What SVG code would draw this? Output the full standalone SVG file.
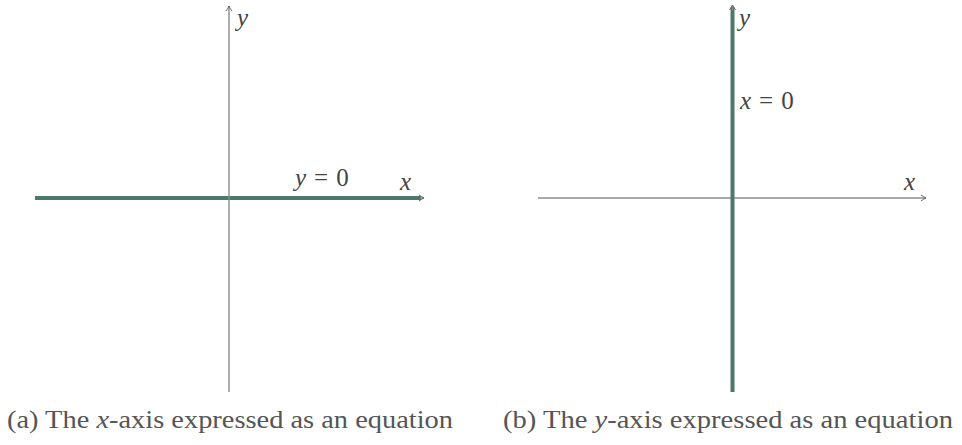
<svg xmlns="http://www.w3.org/2000/svg" width="962" height="445" viewBox="0 0 962 445">
<style>
.axis{stroke:#8a8a8a;stroke-width:1.4;fill:none}
.axisd{stroke:#555;stroke-width:1.2;fill:none}
.eq{stroke:#4b7a69;stroke-width:4;fill:none}
.m{font-family:"Liberation Serif","DejaVu Serif",serif;font-style:italic;font-size:25px;fill:#444}
.r{font-family:"Liberation Serif","DejaVu Serif",serif;font-size:25px;fill:#444}
.cap{font-family:"Liberation Serif","DejaVu Serif",serif;font-size:25px;fill:#555}
</style>
<defs>
<marker id="ah" viewBox="-6 -4 7 8" refX="0" refY="0" markerWidth="7" markerHeight="8" markerUnits="userSpaceOnUse" orient="auto">
<path d="M -5 -3 Q -2 -0.8 0 0 Q -2 0.8 -5 3" fill="none" stroke="#666" stroke-width="1"/>
</marker>
</defs>
<g id="connectors">
<g id="panel-a-axes">
<line class="eq" x1="35" y1="198" x2="421" y2="198"/>
<line class="axis" x1="229" y1="392" x2="229" y2="6" marker-end="url(#ah)"/>
<line class="axis" x1="420" y1="198" x2="424" y2="198" marker-end="url(#ah)"/>
</g>
<g id="panel-b-axes">
<line class="axisd" x1="538" y1="198" x2="926" y2="198" marker-end="url(#ah)"/>
<line class="eq" x1="732.5" y1="392" x2="732.5" y2="7"/>
<line class="axis" x1="732.5" y1="10" x2="732.5" y2="5" marker-end="url(#ah)"/>
</g>
</g>
<g id="label-a-y"><text class="m" x="237" y="26">y</text></g>
<g id="label-a-x"><text class="m" x="400" y="190">x</text></g>
<g id="label-a-eq"><text x="295" y="186"><tspan class="m">y</tspan><tspan class="r" dx="8">=</tspan><tspan class="r" dx="8">0</tspan></text></g>
<g id="label-b-y"><text class="m" x="739" y="26">y</text></g>
<g id="label-b-x"><text class="m" x="904" y="190">x</text></g>
<g id="label-b-eq"><text x="740" y="109"><tspan class="m">x</tspan><tspan class="r" dx="8">=</tspan><tspan class="r" dx="8">0</tspan></text></g>
<g id="caption-a"><text class="cap" x="7" y="428" textLength="446" lengthAdjust="spacingAndGlyphs">(a) The <tspan font-style="italic">x</tspan>-axis expressed as an equation</text></g>
<g id="caption-b"><text class="cap" x="503" y="428" textLength="450" lengthAdjust="spacingAndGlyphs">(b) The <tspan font-style="italic">y</tspan>-axis expressed as an equation</text></g>
</svg>
